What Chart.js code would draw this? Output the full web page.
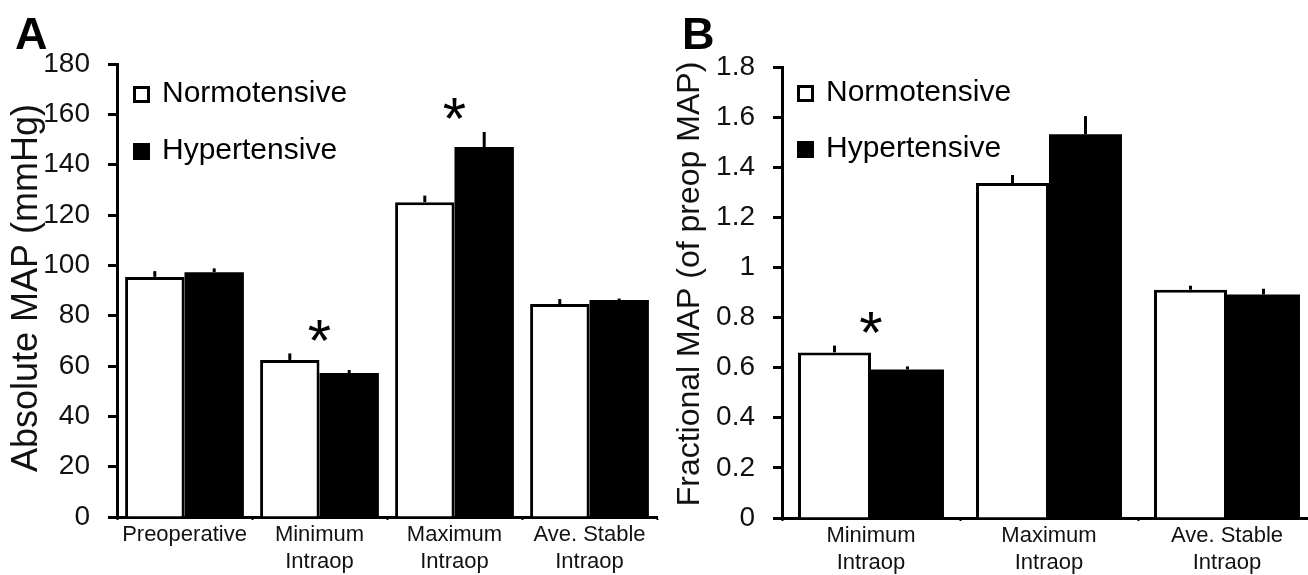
<!DOCTYPE html>
<html>
<head>
<meta charset="utf-8">
<script src="https://cdn.jsdelivr.net/npm/chart.js@4.4.1/dist/chart.umd.min.js"></script>
<style>
  html, body { margin: 0; padding: 0; background: #fff; overflow: hidden; width: 1308px; height: 575px; }
  #wrap { position: relative; width: 1308px; height: 575px; overflow: hidden; }
  canvas { position: absolute; top: 0; }
  #cA { left: 0; }
  #cB { left: 660px; }
</style>
</head>
<body>
<div id="wrap">
  <canvas id="cA" width="660" height="575"></canvas>
  <canvas id="cB" width="660" height="575"></canvas>
</div>
<script>
// ---------- data ----------
const seriesNames = ['Normotensive', 'Hypertensive'];

const categoriesA = ['Preoperative', ['Minimum', 'Intraop'], ['Maximum', 'Intraop'], ['Ave. Stable', 'Intraop']];
const normoA = [95.4, 62.4, 125.1, 84.6];
const normoErrA = [2.3, 2.6, 2.6, 2.0];
const hyperA = [97.3, 57.2, 147.0, 86.2];
const hyperErrA = [1.5, 1.2, 6.0, 0.6];
const sigA = [false, true, true, false];
const yTicksA = ['0', '20', '40', '60', '80', '100', '120', '140', '160', '180'];
const yTitleA = 'Absolute MAP (mmHg)';

const categoriesB = [['Minimum', 'Intraop'], ['Maximum', 'Intraop'], ['Ave. Stable', 'Intraop']];
const normoB = [0.661, 1.337, 0.911];
const normoErrB = [0.027, 0.032, 0.016];
const hyperB = [0.593, 1.532, 0.892];
const hyperErrB = [0.012, 0.072, 0.023];
const sigB = [true, false, false];
const yTicksB = ['0', '0.2', '0.4', '0.6', '0.8', '1', '1.2', '1.4', '1.6', '1.8'];
const yTitleB = 'Fractional MAP (of preop MAP)';

// ---------- plugin: error bars, asterisks, legend, panel letter, axis title ----------
const FONT = "'Liberation Sans', Arial, sans-serif";
const extrasPlugin = {
  id: 'extras',
  afterDatasetsDraw(chart, args, opts) {
    const ctx = chart.ctx;
    const ys = chart.scales.y, xs = chart.scales.x;
    const errs = opts.errors;
    ctx.save();
    // error bars (upper only)
    ctx.strokeStyle = '#000';
    ctx.lineWidth = 3;
    chart.data.datasets.forEach((ds, i) => {
      const meta = chart.getDatasetMeta(i);
      meta.data.forEach((el, j) => {
        const v = ds.data[j];
        const yTop = ys.getPixelForValue(v + errs[i][j]);
        ctx.beginPath();
        ctx.moveTo(el.x, el.y);
        ctx.lineTo(el.x, yTop);
        ctx.stroke();
      });
    });
    // asterisks
    ctx.fillStyle = '#000';
    ctx.font = '60px ' + FONT;
    ctx.textAlign = 'center';
    ctx.textBaseline = 'alphabetic';
    const m = ctx.measureText('*');
    opts.sig.forEach((s, j) => {
      if (!s) return;
      let top = Infinity;
      chart.data.datasets.forEach((ds, i) => {
        top = Math.min(top, ys.getPixelForValue(ds.data[j] + errs[i][j]));
      });
      const cy = top - 23;
      const base = cy + (m.actualBoundingBoxAscent - m.actualBoundingBoxDescent) / 2;
      ctx.fillText('*', xs.getPixelForValue(j), base);
    });
    // legend
    const ca = chart.chartArea;
    const lg = opts.legend;
    ctx.font = '30px ' + FONT;
    ctx.textAlign = 'left';
    chart.data.datasets.forEach((ds, i) => {
      const bx = ca.left + lg.dx, by = ca.top + lg.dy + i * lg.gap;
      ctx.fillStyle = ds.backgroundColor;
      ctx.fillRect(bx, by, 17, 17);
      ctx.lineWidth = 3;
      ctx.strokeStyle = '#000';
      ctx.strokeRect(bx + 1.5, by + 1.5, 14, 14);
      ctx.fillStyle = '#000';
      ctx.fillText(ds.label, bx + 29, by + 16);
    });
    // panel letter
    ctx.font = 'bold 45px ' + FONT;
    ctx.fillText(opts.letter.text, opts.letter.x, opts.letter.y);
    // y axis title
    const t = opts.yTitle;
    ctx.save();
    ctx.translate(t.x, t.y);
    ctx.rotate(-Math.PI / 2);
    ctx.font = t.size + 'px ' + FONT;
    ctx.fillStyle = '#111';
    ctx.textAlign = 'center';
    ctx.textBaseline = 'middle';
    ctx.fillText(t.text, 0, 0);
    ctx.restore();
    ctx.restore();
  }
};

function makeChart(id, cats, nVals, hVals, nErr, hErr, sig, ticks, yMax, step, title, cfg) {
  return new Chart(document.getElementById(id), {
    type: 'bar',
    data: {
      labels: cats,
      datasets: [
        { label: seriesNames[0], data: nVals, backgroundColor: '#ffffff', borderColor: '#000', borderWidth: 3,
          barPercentage: 1.0, categoryPercentage: cfg.catPct },
        { label: seriesNames[1], data: hVals, backgroundColor: '#000000', borderColor: '#000', borderWidth: 0,
          barPercentage: 1.0, categoryPercentage: cfg.catPct }
      ]
    },
    options: {
      responsive: false,
      animation: false,
      devicePixelRatio: 1,
      layout: { padding: { left: 0, top: cfg.top, right: cfg.right, bottom: 0 } },
      plugins: {
        legend: { display: false },
        tooltip: { enabled: false },
        extras: { errors: [nErr, hErr], sig: sig, legend: cfg.legend, letter: cfg.letter,
                  yTitle: { text: title, x: cfg.titleX, y: cfg.titleY, size: cfg.titleSize } }
      },
      scales: {
        x: {
          grid: { display: true, drawOnChartArea: false, drawTicks: true, tickLength: 3, tickWidth: 2, tickColor: '#000', offset: true },
          border: { display: true, color: '#000', width: 3 },
          ticks: { color: '#111', font: { family: FONT, size: 22, lineHeight: 1.23 }, padding: 1, maxRotation: 0, autoSkip: false },
          afterFit(s) { s.height = cfg.xH; }
        },
        y: {
          min: 0, max: yMax,
          ticks: { stepSize: step, color: '#111', padding: 18, font: { family: FONT, size: 28 },
                   callback: (v, i) => ticks[i] },
          grid: { display: true, drawOnChartArea: false, drawTicks: true, tickLength: 9, tickWidth: 3, tickColor: '#000' },
          border: { display: true, color: '#000', width: 3 },
          title: { display: false },
          afterFit(s) { s.width = cfg.yW; }
        }
      }
    },
    plugins: [extrasPlugin]
  });
}

makeChart('cA', categoriesA, normoA, hyperA, normoErrA, hyperErrA, sigA, yTicksA, 180, 20, yTitleA, {
  catPct: 0.88, top: 64, right: 3, xH: 58, yW: 117, titleSize: 36, titleX: 27, titleY: 288,
  legend: { dx: 16, dy: 22, gap: 57 },
  letter: { text: 'A', x: 15, y: 49 }
});

makeChart('cB', categoriesB, normoB, hyperB, normoErrB, hyperErrB, sigB, yTicksB, 1.8, 0.2, yTitleB, {
  catPct: 0.82, top: 67, right: 4, xH: 57, yW: 122, titleSize: 32, titleX: 30, titleY: 284,
  legend: { dx: 15, dy: 18, gap: 56 },
  letter: { text: 'B', x: 22, y: 49 }
});
</script>
</body>
</html>
